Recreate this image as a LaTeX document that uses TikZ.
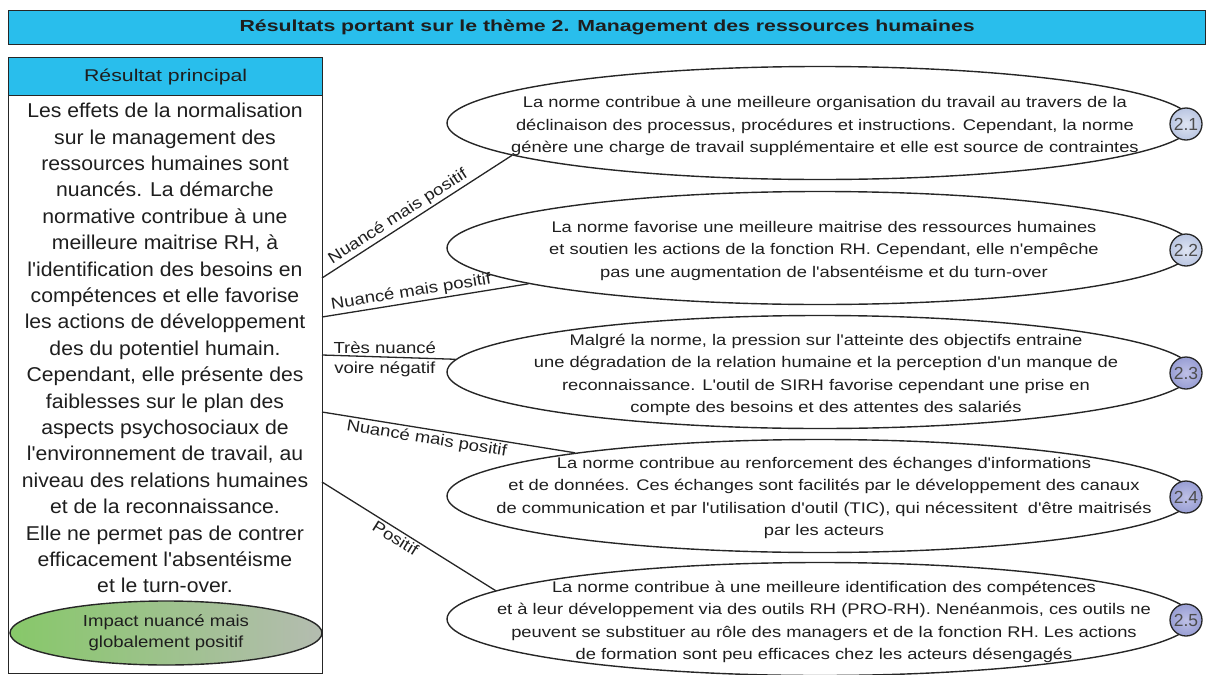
\documentclass[tikz,border=0pt]{standalone}
\usepackage{fontspec}
\setmainfont{Liberation Sans}
\newfontfamily\titlefont[FakeStretch=1.33]{Liberation Sans}
\newfontfamily\headfont[FakeStretch=1.25]{Liberation Sans}
\newfontfamily\bodyfont[FakeStretch=1.06]{Liberation Sans}
\newfontfamily\ovalfont[FakeStretch=1.19]{Liberation Sans}
\newfontfamily\labfont[FakeStretch=1.16]{Liberation Sans}
\usetikzlibrary{shapes.geometric}
\definecolor{cyanbar}{RGB}{41,190,236}
\definecolor{txt}{RGB}{30,30,30}
\definecolor{ballA}{RGB}{222,228,242}
\definecolor{ballB}{RGB}{186,198,226}
\definecolor{ballC}{RGB}{190,192,230}
\definecolor{ballD}{RGB}{152,158,212}
\definecolor{greenA}{RGB}{135,200,105}
\definecolor{greenB}{RGB}{180,188,176}
\tikzset{
  boxline/.style={draw=black!85, line width=1.3pt},
  oval/.style={ellipse, draw=black!85, line width=1.4pt, minimum width=746pt, minimum height=113pt, inner sep=0pt},
  ovaltext/.style={align=center, inner sep=0pt, text=txt, font=\ovalfont\fontsize{15.4}{22.4}\selectfont},
  num/.style={circle, draw=black!85, line width=1.3pt, minimum size=32pt, inner sep=0pt, text=black!70, font=\fontsize{17.5}{17.5}\selectfont},
  numlight/.style={num, inner color=ballA, outer color=ballB},
  numdark/.style={num, inner color=ballC, outer color=ballD},
  conn/.style={draw=black!85, line width=1.3pt},
  lab/.style={text=txt, font=\labfont\fontsize{16}{18}\selectfont, inner sep=2pt},
}
\begin{document}
\begin{tikzpicture}[x=1pt,y=-1pt]
\useasboundingbox (0,0) rectangle (1211,675);
% title
\node[boxline, fill=cyanbar, minimum width=1197pt, minimum height=34pt, anchor=north west, inner sep=0pt] (title) at (8,10) {};
\node[font=\titlefont\bfseries\fontsize{16}{18}\selectfont, text=txt] (titletext) at (title.center) {Résultats portant sur le thème 2. Management des ressources humaines};
% left column
\node[boxline, fill=cyanbar, minimum width=314pt, minimum height=38pt, anchor=north west, inner sep=0pt] (head) at (8,57) {};
\node[font=\headfont\fontsize{17}{18}\selectfont, text=txt] (headtext) at (head.center) {Résultat principal};
\node[boxline, minimum width=314pt, minimum height=578pt, anchor=north west, inner sep=0pt] (body) at (8,95) {};
\node[anchor=north, align=center, inner sep=0pt, text=txt, font=\bodyfont\fontsize{20}{26.4}\selectfont] (bodytext) at (165,103) {Les effets de la normalisation\\ sur le management des\\ ressources humaines sont\\ nuancés. La démarche\\ normative contribue à une\\ meilleure maitrise RH, à\\ l'identification des besoins en\\ compétences et elle favorise\\ les actions de développement\\ des du potentiel humain.\\ Cependant, elle présente des\\ faiblesses sur le plan des\\ aspects psychosociaux de\\ l'environnement de travail, au\\ niveau des relations humaines\\ et de la reconnaissance.\\ Elle ne permet pas de contrer\\ efficacement l'absentéisme\\ et le turn-over.};
\node[ellipse, draw=black!85, line width=1.4pt, minimum width=312pt, minimum height=64pt, inner sep=0pt, left color=greenA, right color=greenB] (impact) at (166,633) {};
\node[align=center, inner sep=0pt, text=txt, font=\labfont\fontsize{16}{21}\selectfont] (impacttext) at (impact.center) {Impact nuancé mais\\ globalement positif};
% ovals
\node[oval] (e1) at (820,123) {};
\node[oval] (e2) at (820,248) {};
\node[oval] (e3) at (820,372) {};
\node[oval] (e4) at (820,496) {};
\node[oval] (e5) at (820,619) {};
\node[ovaltext] (t1) at (825,126) {La norme contribue à une meilleure organisation du travail au travers de la\\ déclinaison des processus, procédures et instructions. Cependant, la norme\\ génère une charge de travail supplémentaire et elle est source de contraintes};
\node[ovaltext] (t2) at (824,251) {La norme favorise une meilleure maitrise des ressources humaines\\ et soutien les actions de la fonction RH. Cependant, elle n'empêche\\ pas une augmentation de l'absentéisme et du turn-over};
\node[ovaltext] (t3) at (826,375) {Malgré la norme, la pression sur l'atteinte des objectifs entraine\\ une dégradation de la relation humaine et la perception d'un manque de\\ reconnaissance. L'outil de SIRH favorise cependant une prise en\\ compte des besoins et des attentes des salariés};
\node[ovaltext] (t4) at (824,498) {La norme contribue au renforcement des échanges d'informations\\ et de données. Ces échanges sont facilités par le développement des canaux\\ de communication et par l'utilisation d'outil (TIC), qui nécessitent\ \ d'être maitrisés\\ par les acteurs};
\node[ovaltext] (t5) at (824,622) {La norme contribue à une meilleure identification des compétences\\ et à leur développement via des outils RH (PRO-RH). Nenéanmois, ces outils ne\\ peuvent se substituer au rôle des managers et de la fonction RH. Les actions\\ de formation sont peu efficaces chez les acteurs désengagés};
% numbers
\node[numlight] (c1) at (1186,124) {2.1};
\node[numlight] (c2) at (1186,250) {2.2};
\node[numdark] (c3) at (1186,373) {2.3};
\node[numdark] (c4) at (1186,497) {2.4};
\node[numdark] (c5) at (1186,620) {2.5};
% connectors
\coordinate (s1) at (322,278);
\coordinate (s2) at (322,317);
\coordinate (s3) at (322,355);
\coordinate (s4) at (322,412);
\coordinate (s5) at (322,482);
\draw[conn] (s1) -- node[lab, sloped, above, pos=0.43] {Nuancé mais positif} (e1.186);
\draw[conn] (s2) -- node[lab, sloped, above, pos=0.44] {Nuancé mais positif} (e2.187);
\draw[conn] (s3) -- node[lab, above=1pt, pos=0.47] (l3a) {Très nuancé} node[lab, below=2pt, pos=0.47] (l3b) {voire négatif} (e3.178);
\draw[conn] (s4) -- node[lab, sloped, below, pos=0.42] {Nuancé mais positif} (e4.170);
\draw[conn] (s5) -- node[lab, sloped, below, pos=0.45] {Positif} (e5.175);
\end{tikzpicture}
\end{document}
